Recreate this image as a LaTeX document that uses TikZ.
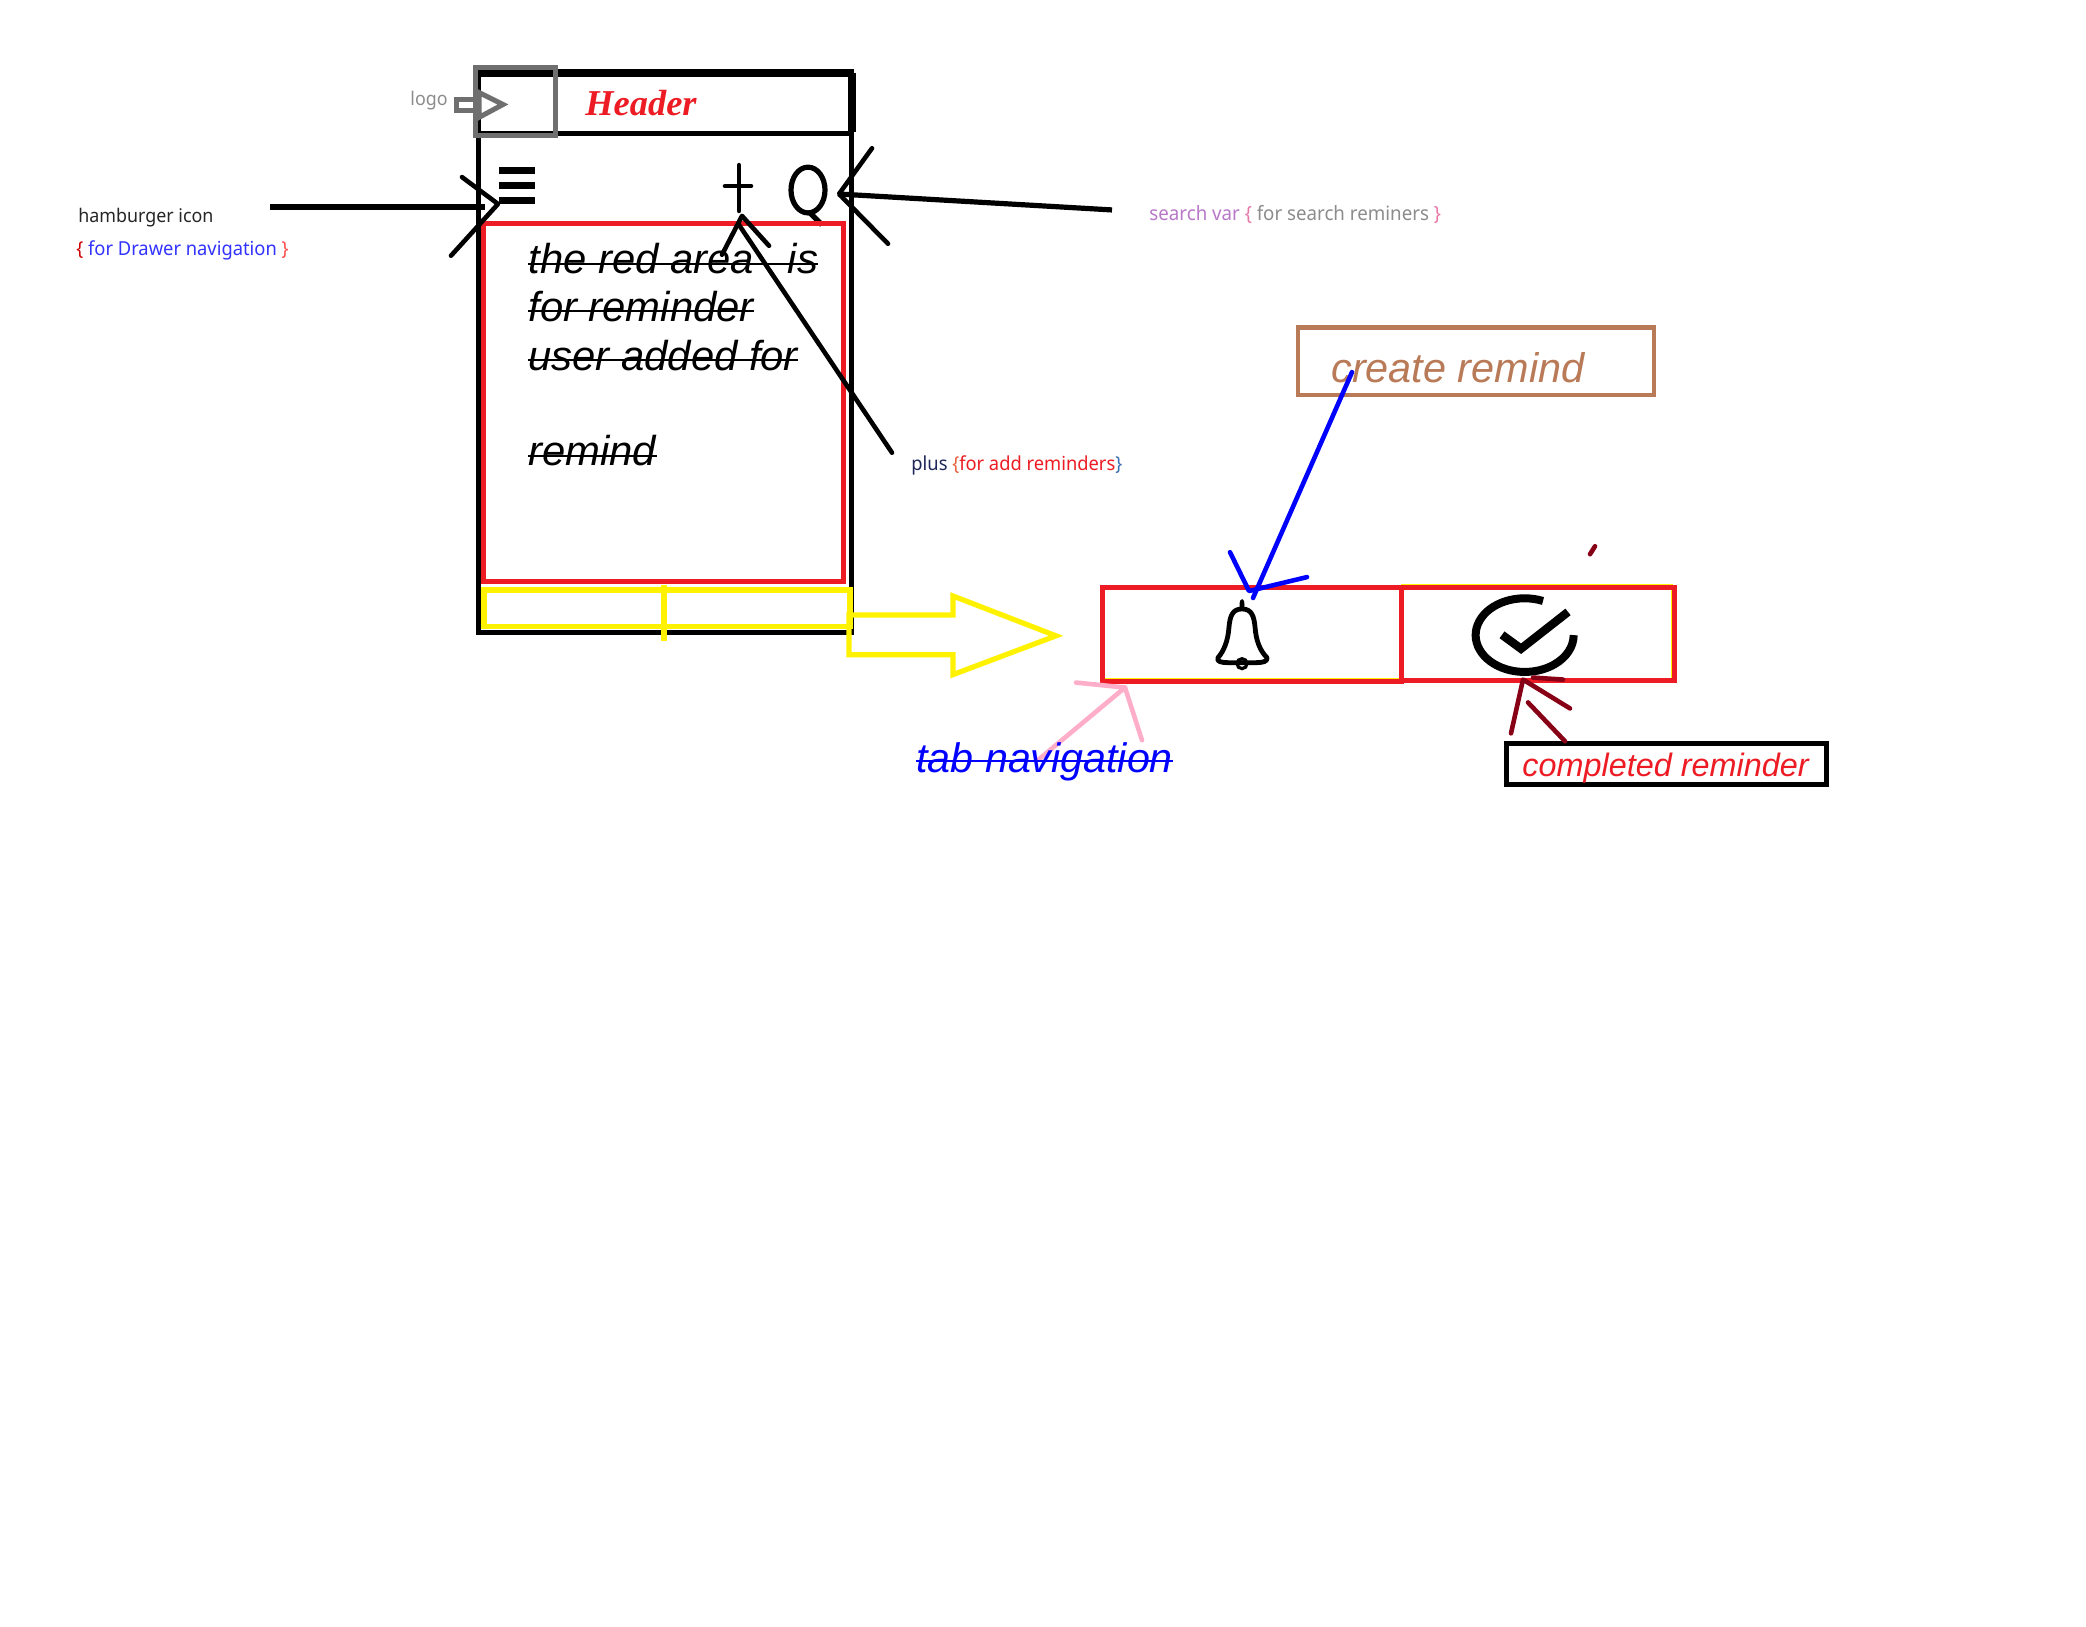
\documentclass[tikz,border=0pt]{standalone}
\usepackage{fontspec}
\setmainfont{Liberation Sans}
\newfontfamily\labelfont[FakeStretch=0.95]{Noto Sans}
\newfontfamily\headerfont{Liberation Serif}
\definecolor{redbox}{HTML}{ED1C24}
\definecolor{yellowbox}{HTML}{FFF200}
\definecolor{graybox}{HTML}{6F6F6F}
\definecolor{brownbox}{HTML}{B97A57}
\definecolor{pinkline}{HTML}{FFAEC9}
\definecolor{darkred}{HTML}{880015}
\definecolor{bluepen}{HTML}{0000FF}
\tikzset{
  lbl/.style={inner sep=0pt,anchor=base west,font=\labelfont\fontsize{9.4}{11}\selectfont},
  ital/.style={inner sep=0pt,anchor=base west,font=\itshape\fontsize{20.9}{24}\selectfont},
  pen/.style={line width=2.3pt,line cap=round,line join=round},
  struck/.style={line width=1pt},
}
\begin{document}
\begin{tikzpicture}[x=0.5pt,y=-0.4975pt]
\useasboundingbox[fill=white] (0,0) rectangle (2086,1634.2);
% phone
\draw[line width=2.5pt] (478,76) -- (478,636) -- (851,636) -- (851,76);
\draw[line width=4pt] (476,73) -- (854,73);
\draw[line width=3.6pt] (852,73) -- (852,133);
\draw[line width=2.5pt] (478,134) -- (853,134);
% header
\node[inner sep=0pt,anchor=base west,text=redbox,font=\headerfont\bfseries\itshape\fontsize{18.2}{22}\selectfont] (hdr) at (585,116) {Header};
% logo
\draw[graybox,line width=2.5pt] (475,68) rectangle (555,136);
\draw[graybox,line width=2.5pt] (479,100) -- (456,100) -- (456,111) -- (479,111);
\draw[graybox,line width=2.5pt] (479,93) -- (503,105) -- (479,118) -- cycle;
\node[lbl,text=gray!90] (logo) at (410,106) {logo};
% hamburger
\fill (499,168) rectangle (535,175);
\fill (499,183) rectangle (535,190);
\fill (499,198) rectangle (535,205);
% plus
\draw[pen] (739,166) -- (739,212) (725,187) -- (751,187);
% search
\draw[line width=2.6pt] (808,191) ellipse [x radius=17,y radius=23];
\draw[line width=2.6pt] (809,213) -- (822,226);
% yellow tabs
\draw[yellowbox,line width=2.6pt] (484,593) rectangle (850,630);
\draw[yellowbox,line width=2.6pt] (664,588) -- (664,644);
% red area
\draw[redbox,line width=2.5pt] (483,225) rectangle (843,584);
% text in red area
\node[ital] (t1) at (528,275) {the red area\hspace{17pt}is};
\node[ital] (t2) at (528,323) {for reminder};
\node[ital] (t3) at (528,372) {user added for};
\node[ital] (t4) at (528,468) {remind};
\foreach \n in {t1,t2,t3,t4}
  \draw[struck] ([yshift=5pt]\n.base west) -- ([yshift=5pt]\n.base east);
% hamburger arrow
\coordinate (hamStart) at (270,208);
\coordinate (hamTip) at (485,208);
\draw[line width=2.6pt] (hamStart) -- (hamTip);
\draw[pen] (462,178) -- (498,205) -- (451,257);
\node[lbl,text=black!85] (hamA) at (78,224) {hamburger icon};
\node[lbl,font=\labelfont\fontsize{9.65}{11}\selectfont] (hamB) at (76,257) {\textcolor{red!80!black}{\{} \textcolor{blue!80}{for Drawer navigation} \textcolor{red!70}{\}}};
% search arrow
\coordinate (seaStart) at (1112,211);
\coordinate (seaTip) at (839,195);
\draw[line width=2.6pt] (seaStart) -- (seaTip);
\draw[pen] (872,149) -- (839,195) -- (842,198) -- (888,245);
\node[lbl,font=\labelfont\fontsize{9.85}{11}\selectfont] (seaL) at (1149,222) {\textcolor[HTML]{B878C8}{search var} \textcolor[HTML]{E878A8}{\{} \textcolor[HTML]{8C8C8C}{for search reminers} \textcolor[HTML]{E878A8}{\}}};
% plus arrow
\coordinate (plusStart) at (892,455);
\coordinate (plusTip) at (739,226);
\draw[pen] (plusStart) -- (plusTip);
\draw[pen] (722,256) -- (742,217) -- (769,247);
\node[lbl,font=\labelfont\fontsize{9.65}{11}\selectfont] (plusL) at (911,473) {\textcolor[HTML]{20285A}{plus} \textcolor[HTML]{E8603C}{\{}\textcolor{redbox}{for add reminders}\textcolor[HTML]{3C70B0}{\}}};
% yellow block arrow
\draw[yellowbox,line width=2.6pt,line join=miter] (849,618) -- (953,618) -- (953,599) -- (1056,639) -- (953,678) -- (953,658) -- (849,658) -- cycle;
% tabs on the right
\draw[yellowbox,line width=1pt] (1102,682) -- (1401,682);
\draw[yellowbox,line width=1pt] (1401,588) -- (1672,588) -- (1672,683);
\draw[redbox,line width=2.5pt] (1102,590) rectangle (1401,685);
\draw[redbox,line width=2.5pt] (1401,590) rectangle (1674,684);
% bell
\draw[line width=2.4pt,line join=round,fill=white]
  (1242,612) .. controls (1232,612) and (1230,620) .. (1229,630)
  .. controls (1228,644) and (1224,654) .. (1218,661)
  .. controls (1216,665) and (1222,666) .. (1228,666)
  -- (1256,666) .. controls (1262,666) and (1268,665) .. (1267,661)
  .. controls (1260,654) and (1256,644) .. (1255,630)
  .. controls (1254,620) and (1252,612) .. (1242,612) -- cycle;
\fill (1242,608) ellipse [x radius=2.5,y radius=6];
\draw[line width=1.6pt] (1242,667) ellipse [x radius=5,y radius=5];
% check icon
\draw[line width=4pt] (1543,604) arc [start angle=-68,end angle=-360,x radius=49,y radius=37];
\draw[line width=4.2pt,line join=miter] (1502,638) -- (1521,652) -- (1568,615);
% create remind
\draw[brownbox,line width=2.4pt] (1298,329) rectangle (1654,397);
\node[ital,text=brownbox,font=\itshape\fontsize{20.7}{24}\selectfont] (crem) at (1331,384) {create remind};
\coordinate (blueStart) at (1352,374);
\coordinate (blueTip) at (1253,601);
\draw[bluepen,pen] (blueStart) -- (blueTip);
\draw[bluepen,pen] (1230,555) -- (1249,594) -- (1307,580);
% tab navigation
\draw[pinkline,pen] (1039,763) -- (1125,691) -- (1076,686);
\draw[pinkline,pen] (1125,691) -- (1142,744);
\node[ital,text=bluepen,font=\itshape\fontsize{20.6}{24}\selectfont] (tabnav) at (916,776) {tab navigation};
\draw[bluepen,struck] ([yshift=5.5pt]tabnav.base west) -- ([yshift=5.5pt]tabnav.base east);
% completed reminder
\draw[line width=2.5pt] (1506,747) rectangle (1826,788);
\node[ital,text=redbox,font=\itshape\fontsize{16.2}{20}\selectfont] (comp) at (1522,780) {completed reminder};
\draw[darkred,pen] (1511,737) -- (1523,683) -- (1570,712);
\draw[darkred,pen] (1528,706) -- (1565,745);
\draw[darkred,pen] (1533,681) -- (1563,683);
\draw[darkred,pen] (1595,549) -- (1590,557);
\end{tikzpicture}
\end{document}
